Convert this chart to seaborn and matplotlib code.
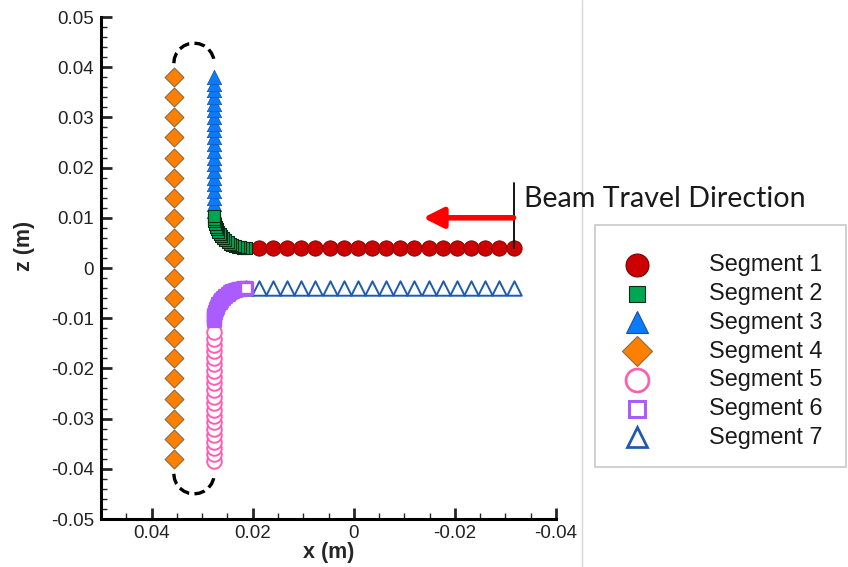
import matplotlib
matplotlib.use("Agg")
import matplotlib.pyplot as plt
from matplotlib.ticker import MultipleLocator, FuncFormatter
from matplotlib.lines import Line2D
from matplotlib.patches import Rectangle
import numpy as np
import pandas as pd
import seaborn as sns

# ---- data (metres) ----
seg1_x = [0.0188, 0.0160, 0.0132, 0.0104, 0.0076, 0.0048, 0.0020, -0.0008, -0.0036, -0.0064,
          -0.0092, -0.0120, -0.0148, -0.0176, -0.0204, -0.0232, -0.0260, -0.0288, -0.0316]
seg1_z = 0.0040

seg2_x = [0.0213, 0.02186, 0.02241, 0.02296, 0.02349, 0.02401, 0.0245, 0.02497, 0.02541, 0.02583,
          0.02620, 0.02654, 0.02684, 0.02710, 0.02731, 0.02748, 0.02760, 0.02768, 0.0277]
seg2_z = [0.0040, 0.00402, 0.0041, 0.00422, 0.00439, 0.0046, 0.00486, 0.00516, 0.0055, 0.00588,
          0.00629, 0.00673, 0.0072, 0.0077, 0.00821, 0.00874, 0.00929, 0.00984, 0.0104]

seg3_x = 0.0277
seg3_z = [0.0114, 0.0127, 0.0140, 0.0154, 0.0167, 0.0180, 0.0194, 0.0207, 0.0220, 0.0234, 0.0247,
          0.0260, 0.0274, 0.0287, 0.0300, 0.0314, 0.0327, 0.0340, 0.0354, 0.0367, 0.0380]

seg4_x = 0.0355
seg4_z = [0.038, 0.034, 0.030, 0.026, 0.022, 0.018, 0.014, 0.010, 0.006, 0.002,
          -0.002, -0.006, -0.010, -0.014, -0.018, -0.022, -0.026, -0.030, -0.034, -0.038]

seg5_x = 0.0277
seg5_z = [-0.0384, -0.0371, -0.0358, -0.0346, -0.0333, -0.0320, -0.0307, -0.0294, -0.0282, -0.0269,
          -0.0256, -0.0243, -0.0230, -0.0218, -0.0205, -0.0192, -0.0179, -0.0166, -0.0154, -0.0141,
          -0.0128]

seg6_x = [0.0277, 0.02768, 0.02760, 0.02748, 0.02731, 0.02710, 0.02684, 0.02654, 0.02620, 0.02583,
          0.02541, 0.02497, 0.0245, 0.02401, 0.02349, 0.02296, 0.02241, 0.02186, 0.0213]
seg6_z = [-0.0104, -0.00984, -0.00929, -0.00874, -0.00821, -0.0077, -0.0072, -0.00673, -0.00629,
          -0.00588, -0.0055, -0.00516, -0.00486, -0.0046, -0.00439, -0.00422, -0.0041, -0.00402, -0.0040]

seg7_x = [0.0213, 0.0188, 0.0160, 0.0132, 0.0104, 0.0076, 0.0048, 0.0020, -0.0008, -0.0036, -0.0064,
          -0.0092, -0.0120, -0.0148, -0.0176, -0.0204, -0.0232, -0.0260, -0.0288, -0.0316]
seg7_z = -0.0040

# dashed end caps
cap_x = [0.0356, 0.03546, 0.03506, 0.03443, 0.0336, 0.03264, 0.0316, 0.03056, 0.0296, 0.02877,
         0.02814, 0.02774, 0.0276]
cap_top_z = [0.0408, 0.04184, 0.0428, 0.04363, 0.04426, 0.04466, 0.0448, 0.04466, 0.04426, 0.04363,
             0.0428, 0.04184, 0.0408]
cap_bot_z = [-0.0410, -0.04204, -0.0430, -0.04383, -0.04446, -0.04486, -0.0450, -0.04486, -0.04446,
             -0.04383, -0.0430, -0.04204, -0.0410]

labels = ["Segment 1", "Segment 2", "Segment 3", "Segment 4", "Segment 5", "Segment 6", "Segment 7"]

sns.set_style("ticks")
plt.rcParams['font.family'] = ['Liberation Sans', 'DejaVu Sans']

fig = plt.figure(figsize=(8.48, 5.67), dpi=100)
ax = fig.add_axes([101 / 848, 1 - 519 / 567, 455 / 848, 502 / 567])

# end caps
for zs in (cap_top_z, cap_bot_z):
    cap = pd.DataFrame({'x': cap_x, 'z': zs})
    sns.lineplot(data=cap, x='x', y='z', sort=False, estimator=None, color='black',
                 lw=2.4, linestyle=(0, (3.2, 1.6)), ax=ax, zorder=2)

# marker styles: (marker, size, face, edge, edge width)
styles = [
    ('o', 122, '#CC0000', '#7a0000', 0.6),
    ('s', 82, '#00A651', '#0b2a17', 0.8),
    ('^', 108, '#0A7BFF', '#1d4f9c', 0.5),
    ('D', 92, '#FF8000', '#8a6a45', 0.8),
    ('o', 110, 'white', '#FF5FB0', 1.4),
    ('s', 82, 'white', '#AA5CFF', 2.4),
    ('^', 108, 'white', '#1E5AAE', 1.4),
]

segs = [
    (seg4_x, seg4_z, 3),
    (seg3_x, seg3_z, 2),
    (seg5_x, seg5_z, 4),
    (seg7_x, seg7_z, 6),
    (seg1_x, seg1_z, 0),
    (seg2_x, seg2_z, 1),
    (seg6_x, seg6_z, 5),
]
for k, (xs, zs, i) in enumerate(segs):
    df = pd.DataFrame({'x': xs, 'z': zs})
    m, s, fc, ec, lw = styles[i]
    sns.scatterplot(data=df, x='x', y='z', marker=m, s=s, color=fc, edgecolor=ec,
                    linewidth=lw, ax=ax, legend=False, zorder=3 + k)

# beam direction annotation
ax.plot([-0.0316, -0.0316], [0.0040, 0.0169], color='black', lw=1.3, zorder=12)
ax.annotate('', xy=(-0.0137, 0.0100), xytext=(-0.0316, 0.0100),
            arrowprops=dict(arrowstyle='-|>,head_length=0.6,head_width=0.3', color='#FF0000',
                            lw=4, mutation_scale=20, shrinkA=0, shrinkB=0), zorder=12)
ax.text(-0.0337, 0.0137, 'Beam Travel Direction', ha='left', va='center', fontsize=20.6,
        family=['Lato', 'DejaVu Sans'], color='#1a1a1a', zorder=12)

# axes styling
ax.set_xlim(0.05, -0.04)
ax.set_ylim(-0.05, 0.05)
ax.xaxis.set_major_locator(MultipleLocator(0.02))
ax.xaxis.set_minor_locator(MultipleLocator(0.005))
ax.yaxis.set_major_locator(MultipleLocator(0.01))
ax.yaxis.set_minor_locator(MultipleLocator(0.002))
fmt = FuncFormatter(lambda v, p: f"{round(v, 4) + 0:g}")
ax.xaxis.set_major_formatter(fmt)
ax.yaxis.set_major_formatter(fmt)
ax.tick_params(which='major', direction='in', length=8, width=2, labelsize=13.5,
               labelcolor='#222222', pad=5)
ax.tick_params(which='minor', direction='in', length=4, width=1)
ax.tick_params(axis='x', which='major', pad=4)
for side in ('top', 'right'):
    ax.spines[side].set_visible(False)
for side in ('left', 'bottom'):
    ax.spines[side].set_linewidth(2.2)
    ax.spines[side].set_color('black')
ax.set_xlabel('x (m)', fontsize=15.5, fontweight='bold', labelpad=0)
ax.set_ylabel('z (m)', fontsize=15.5, fontweight='bold')
ax.yaxis.set_label_coords(-0.145, 0.544)
ax.set_facecolor('white')

# separator line and legend box
fig.add_artist(Line2D([582 / 848, 582 / 848], [0, 1], color='#d6d6d6', lw=1, zorder=0))
fig.add_artist(Rectangle((595 / 848, 1 - 467 / 567), 251 / 848, 242 / 567, transform=fig.transFigure,
                         facecolor='white', edgecolor='#c8c8c8', lw=1.2))
leg_sizes = [16.5, 11.5, 15.5, 15.5, 16.5, 11, 15]
for i, lab in enumerate(labels):
    py = 265 + i * 28.7
    m, s, fc, ec, lw = styles[i]
    fig.add_artist(Line2D([637 / 848], [1 - py / 567], marker=m, markersize=leg_sizes[i],
                          markerfacecolor=fc, markeredgecolor=ec,
                          markeredgewidth=min(max(lw, 0.8) * (1.4 if fc == 'white' else 1), 2.2),
                          linestyle='none', transform=fig.transFigure))
    fig.text(709 / 848, 1 - py / 567, lab, ha='left', va='center', fontsize=16.9, color='#1a1a1a')

fig.savefig('out.png', dpi=100)
